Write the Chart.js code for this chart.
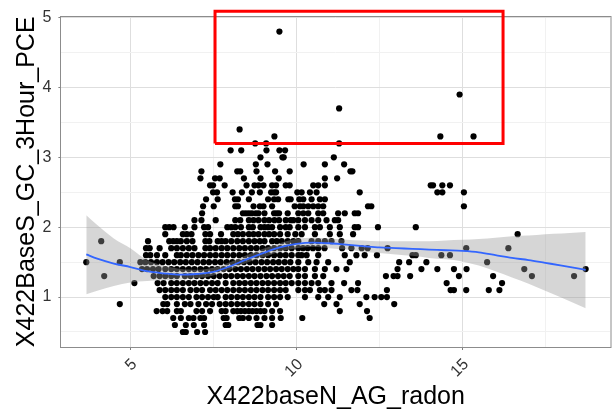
<!DOCTYPE html>
<html><head><meta charset="utf-8">
<script src="https://cdn.jsdelivr.net/npm/chart.js@4"></script>
<style>html,body{margin:0;padding:0;background:#fff;}canvas{display:block;}</style>
</head><body>
<canvas id="c" width="613" height="412"></canvas>
<script>
const xTitle = 'X422baseN_AG_radon';
const yTitle = 'X422BaseS_GC_3Hour_PCE';
const xTickValues = [5, 7.5, 10, 12.5, 15, 17.5];
const xTickLabels = ['5', '', '10', '', '15', ''];
const yTickValues = [0.5, 1, 1.5, 2, 2.5, 3, 3.5, 4, 4.5, 5];
const yTickLabels = ['', '1', '', '2', '', '3', '', '4', '', '5'];
const xRange = [2.92, 19.45];
const yRange = [0.285, 5.015];

// scatter points, one array of x values per y level
const r05 = [6.58, 6.67, 7.01, 7.25];
const r06 = [6.34, 6.67, 6.91, 7.22, 7.87, 7.95, 8.83, 8.92, 9.27];
const r07 = [6.29, 6.52, 6.76, 6.90, 7.11, 7.22, 7.81, 7.90, 8.28, 8.39, 8.57, 8.80, 9.04, 9.27, 9.53, 10.18, 12.21];
const r08 = [5.79, 5.97, 6.11, 6.40, 6.52, 6.99, 7.16, 7.40, 7.75, 7.87, 8.10, 8.22, 8.33, 8.45, 8.57, 8.68, 8.80, 8.92, 9.04, 9.27, 9.51, 11.31, 12.13];
const r09 = [4.68, 5.99, 6.11, 6.40, 6.64, 6.81, 7.05, 7.28, 7.46, 7.69, 7.87, 8.04, 8.22, 8.39, 8.57, 8.74, 8.92, 9.15, 9.39, 10.84, 11.21, 11.91, 12.95];
const r10 = [6.05, 6.23, 6.40, 6.58, 6.76, 6.99, 7.16, 7.34, 7.51, 7.63, 7.87, 8.04, 8.22, 8.39, 8.57, 8.74, 8.92, 9.15, 9.33, 9.51, 9.74, 10.26, 10.66, 10.96, 11.31, 12.11, 12.36, 12.56, 12.73];
const r11 = [5.88, 6.05, 6.23, 6.40, 6.58, 6.81, 6.99, 7.16, 7.40, 7.57, 7.75, 7.92, 8.10, 8.28, 8.45, 8.63, 8.80, 8.98, 9.15, 9.33, 9.51, 9.68, 10.06, 10.26, 10.41, 10.71, 10.86, 11.06, 11.66, 11.84, 12.73, 14.65, 14.75, 15.12, 15.80, 16.12];
const r12 = [5.12, 5.82, 6.00, 6.23, 6.40, 6.58, 6.76, 6.93, 7.11, 7.28, 7.46, 7.63, 7.87, 8.10, 8.28, 8.45, 8.63, 8.80, 8.98, 9.15, 9.33, 9.51, 9.68, 9.86, 10.06, 10.26, 10.46, 10.66, 11.06, 11.44, 11.86, 14.53, 16.20];
const r13 = [4.21, 5.70, 5.88, 6.05, 6.23, 6.40, 6.64, 6.81, 6.99, 7.16, 7.34, 7.51, 7.69, 7.87, 8.04, 8.22, 8.39, 8.57, 8.74, 8.92, 9.10, 9.27, 9.45, 9.62, 9.80, 10.06, 10.26, 10.56, 10.81, 12.70, 12.93, 13.05, 13.43, 14.90, 15.93, 17.10, 18.37];
const r14 = [5.35, 5.50, 5.68, 5.85, 6.05, 6.23, 6.40, 6.58, 6.76, 6.93, 7.11, 7.28, 7.46, 7.63, 7.81, 7.98, 8.16, 8.33, 8.51, 8.68, 8.86, 9.04, 9.21, 9.39, 9.56, 9.74, 9.91, 10.06, 10.26, 10.56, 10.86, 11.21, 11.51, 13.05, 13.77, 14.25, 14.75, 15.13, 16.87, 18.72];
const r15 = [3.67, 4.68, 5.30, 5.45, 5.62, 5.80, 5.97, 6.15, 6.32, 6.50, 6.67, 6.85, 7.02, 7.20, 7.37, 7.55, 7.72, 7.90, 8.07, 8.25, 8.42, 8.60, 8.77, 8.95, 9.12, 9.30, 9.47, 9.65, 9.82, 10.06, 10.36, 10.61, 10.96, 11.61, 13.10, 13.40, 13.92, 15.75];
const r16 = [5.47, 5.60, 5.80, 6.05, 6.40, 6.52, 6.70, 6.87, 7.05, 7.22, 7.40, 7.57, 7.75, 7.92, 8.10, 8.28, 8.45, 8.63, 8.80, 8.98, 9.15, 9.33, 9.51, 9.68, 9.86, 10.06, 10.16, 10.31, 10.66, 11.46, 11.81, 12.06, 12.43, 13.50, 13.60, 14.37, 14.63];
const r17 = [5.47, 5.58, 5.88, 6.23, 6.40, 6.58, 6.76, 6.93, 7.26, 7.40, 7.57, 7.75, 7.92, 8.10, 8.28, 8.45, 8.63, 8.80, 8.98, 9.15, 9.33, 9.51, 9.68, 9.86, 10.06, 10.20, 10.34, 10.50, 10.66, 10.85, 11.38, 11.66, 11.97, 12.15, 12.75, 15.12, 16.39];
const r18 = [4.12, 5.53, 6.17, 6.29, 6.40, 6.52, 6.70, 6.87, 7.26, 7.38, 7.63, 7.75, 7.87, 8.04, 8.22, 8.39, 8.57, 8.74, 8.90, 9.04, 9.27, 9.41, 9.56, 9.74, 9.91, 10.06, 10.46, 10.66, 10.86, 11.06, 11.36];
const r19 = [6.05, 6.58, 6.70, 6.84, 7.26, 7.40, 7.73, 8.10, 8.24, 8.39, 8.57, 8.71, 8.86, 9.04, 9.18, 9.33, 9.51, 9.74, 9.97, 10.16, 10.56, 11.01, 11.31, 11.71, 16.67];
const r20 = [6.05, 6.17, 6.30, 6.64, 6.93, 7.22, 7.34, 7.92, 8.04, 8.16, 8.33, 8.57, 8.69, 8.92, 9.04, 9.15, 9.27, 9.51, 9.68, 9.80, 10.06, 10.26, 10.56, 10.71, 11.01, 11.31, 11.76, 11.86, 12.46, 13.60];
const r21 = [6.93, 7.14, 7.57, 8.16, 8.31, 8.57, 8.71, 8.86, 9.04, 9.18, 9.34, 9.48, 9.68, 9.83, 9.91, 10.06, 10.26, 10.46, 10.66, 10.91, 11.16, 11.26];
const r22 = [7.16, 8.39, 8.48, 8.57, 8.66, 8.78, 8.86, 9.04, 9.33, 9.41, 9.48, 9.74, 10.06, 10.21, 10.36, 10.66, 10.81, 11.26, 11.46, 11.76, 11.86];
const r23 = [7.19, 7.51, 8.16, 8.24, 8.71, 8.90, 9.01, 9.27, 9.95, 10.11, 10.21, 10.36, 10.51, 10.66, 10.81, 12.16, 12.26, 15.05];
const r24 = [7.28, 7.63, 8.15, 8.24, 8.57, 9.15, 9.33, 9.45, 9.76, 9.83, 10.09, 10.21, 10.46, 10.71, 10.86];
const r25 = [7.49, 7.61, 8.08, 8.36, 8.66, 8.90, 9.24, 9.33, 9.39, 10.03, 10.16, 10.41, 10.61, 11.91, 14.25, 14.40, 15.05];
const r26 = [7.40, 7.49, 7.84, 8.50, 8.74, 8.86, 9.01, 9.27, 9.39, 9.68, 9.80, 10.51, 10.66, 10.86, 14.05, 14.12, 14.40, 14.63];
const r27 = [7.11, 7.55, 7.69, 8.42, 8.92, 9.47, 10.86, 11.23];
const r28 = [7.14, 8.22, 8.31, 8.80, 9.36, 9.80, 11.63, 11.69];
const r29 = [7.71, 8.78, 9.13, 10.22, 10.86, 11.44];
const r30 = [8.92, 9.58, 9.62, 11.13];
const r31 = [8.02, 8.34, 9.10, 9.49, 9.66];
const r32 = [8.76, 9.09, 11.29];
const r33 = [9.34, 14.34, 15.34];
const r34 = [8.29];
const r37 = [11.29];
const r39 = [14.92];
const r48 = [9.49];
const yLevels = [0.5, 0.6, 0.7, 0.8, 0.9, 1.0, 1.1, 1.2, 1.3, 1.4, 1.5, 1.6, 1.7, 1.8, 1.9, 2.0, 2.1, 2.2, 2.3, 2.4, 2.5, 2.6, 2.7, 2.8, 2.9, 3.0, 3.1, 3.2, 3.3, 3.4, 3.7, 3.9, 4.8];
const xRows = [r05, r06, r07, r08, r09, r10, r11, r12, r13, r14, r15, r16, r17, r18, r19, r20, r21, r22, r23, r24, r25, r26, r27, r28, r29, r30, r31, r32, r33, r34, r37, r39, r48];

// loess smooth and its confidence band
const smoothX = [3.67, 4.0, 4.5, 5.0, 5.5, 6.0, 6.5, 7.0, 7.5, 8.0, 8.5, 9.0, 9.5, 10.0, 10.5, 11.0, 11.5, 12.0, 12.5, 13.0, 13.5, 14.0, 14.5, 15.0, 15.5, 16.0, 16.5, 17.0, 17.5, 18.0, 18.72];
const smoothY = [1.61, 1.55, 1.48, 1.43, 1.37, 1.34, 1.32, 1.33, 1.36, 1.44, 1.54, 1.63, 1.71, 1.76, 1.78, 1.77, 1.75, 1.73, 1.71, 1.70, 1.69, 1.68, 1.67, 1.66, 1.64, 1.60, 1.56, 1.53, 1.49, 1.45, 1.39];
const bandLow = [1.04, 1.09, 1.16, 1.21, 1.23, 1.24, 1.25, 1.27, 1.31, 1.39, 1.49, 1.57, 1.65, 1.70, 1.72, 1.70, 1.68, 1.65, 1.63, 1.61, 1.59, 1.56, 1.54, 1.51, 1.45, 1.37, 1.28, 1.19, 1.09, 0.99, 0.84];
const bandHigh = [2.17, 2.03, 1.84, 1.70, 1.53, 1.45, 1.40, 1.39, 1.42, 1.50, 1.60, 1.69, 1.77, 1.83, 1.85, 1.84, 1.82, 1.81, 1.80, 1.80, 1.80, 1.80, 1.81, 1.82, 1.83, 1.85, 1.87, 1.88, 1.90, 1.91, 1.93];

// highlighted region
const boxX = [7.55, 7.55, 16.23, 16.23, 7.55];
const boxY = [3.2, 5.09, 5.09, 3.2, 3.2];

const FONT = 'Liberation Sans, Arial, Helvetica, sans-serif';
const pts = [];
xRows.forEach((row, i) => row.forEach(x => pts.push({x: x, y: yLevels[i]})));
const zip = (xs, ys) => xs.map((x, i) => ({x: x, y: ys[i]}));

const isMajorX = v => xTickLabels[xTickValues.indexOf(v)] !== '';
const isMajorY = v => yTickLabels[yTickValues.indexOf(v)] !== '';

const panelBorder = {
  id: 'panelBorder',
  beforeDatasetsDraw(chart) {
    const {ctx, chartArea: a} = chart;
    ctx.save();
    ctx.strokeStyle = '#8c8c8c';
    ctx.lineWidth = 1;
    ctx.strokeRect(Math.round(a.left) - 0.5, Math.round(a.top) - 0.5, a.right - a.left + 2, Math.round(a.bottom - a.top) + 1);
    ctx.restore();
  }
};

new Chart(document.getElementById('c'), {
  type: 'scatter',
  data: {
    datasets: [
      {type: 'line', data: zip(boxX, boxY), borderColor: '#ff0000', borderWidth: 3, pointRadius: 0, tension: 0, fill: false, clip: false, borderJoinStyle: 'miter', order: 0},
      {type: 'line', data: zip(smoothX, smoothY), borderColor: '#3366FF', borderWidth: 1.8, pointRadius: 0, cubicInterpolationMode: 'monotone', fill: false, order: 1},
      {type: 'line', data: zip(smoothX, bandHigh), borderWidth: 0, borderColor: 'rgba(0,0,0,0)', pointRadius: 0, cubicInterpolationMode: 'monotone', fill: '+1', backgroundColor: 'rgba(153,153,153,0.4)', order: 2},
      {type: 'line', data: zip(smoothX, bandLow), borderWidth: 0, borderColor: 'rgba(0,0,0,0)', pointRadius: 0, cubicInterpolationMode: 'monotone', fill: false, order: 3},
      {type: 'scatter', data: pts, backgroundColor: '#000', borderWidth: 0, pointRadius: 3.1, pointHoverRadius: 3.1, order: 4}
    ]
  },
  options: {
    responsive: false,
    animation: false,
    devicePixelRatio: 1,
    layout: {padding: {top: 11, left: 0, right: 0, bottom: 0}},
    plugins: {legend: {display: false}, tooltip: {enabled: false}},
    scales: {
      x: {
        type: 'linear', min: xRange[0], max: xRange[1],
        afterBuildTicks: s => { s.ticks = xTickValues.map(v => ({value: v})); },
        afterFit: s => { s.height = 65; },
        border: {display: false},
        grid: {
          color: c => (c.tick && isMajorX(c.tick.value)) ? '#dedede' : '#f1f1f1',
          lineWidth: 1, tickLength: 3,
          tickColor: c => (c.tick && isMajorX(c.tick.value)) ? '#7f7f7f' : 'rgba(0,0,0,0)'
        },
        ticks: {
          autoSkip: false, minRotation: 45, maxRotation: 45, padding: 5, labelOffset: 4,
          color: '#333', font: {family: FONT, size: 16},
          callback: v => xTickLabels[xTickValues.indexOf(v)] ?? ''
        },
        title: {display: true, text: xTitle, color: '#000', font: {family: FONT, size: 25, lineHeight: 1}, padding: {top: 0, bottom: 2.2}}
      },
      y: {
        type: 'linear', min: yRange[0], max: yRange[1],
        afterBuildTicks: s => { s.ticks = yTickValues.map(v => ({value: v})); },
        afterFit: s => { s.width = 61.4; },
        border: {display: false},
        grid: {
          color: c => (c.tick && isMajorY(c.tick.value)) ? '#dedede' : '#f1f1f1',
          lineWidth: 1, tickLength: 3,
          tickColor: c => (c.tick && isMajorY(c.tick.value)) ? '#7f7f7f' : 'rgba(0,0,0,0)'
        },
        ticks: {
          autoSkip: false, padding: 7,
          color: '#333', font: {family: FONT, size: 16},
          callback: v => yTickLabels[yTickValues.indexOf(v)] ?? ''
        },
        title: {display: true, text: yTitle, color: '#000', font: {family: FONT, size: 25, lineHeight: 1}, padding: {top: 14.8, bottom: 0}}
      }
    }
  },
  plugins: [panelBorder]
});
</script>
</body></html>
